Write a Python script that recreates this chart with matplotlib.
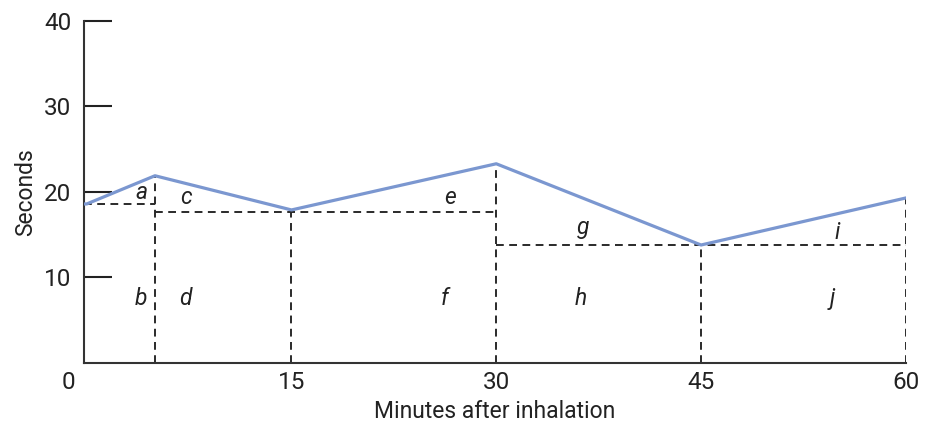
import matplotlib
matplotlib.use("Agg")
import matplotlib.pyplot as plt
import matplotlib.transforms as mtransforms

# measured curve
minutes = [0, 5, 15, 30, 45, 60]
seconds = [18.6, 21.9, 17.9, 23.3, 13.8, 19.3]

# dashed reference levels (x-start, x-end, y)
h_levels = [(-0.2, 5, 18.6), (5, 30, 17.7), (30, 60, 13.8)]

# region labels
labels = ["a", "b", "c", "d", "e", "f", "g", "h", "i", "j"]
label_x = [4.0, 4.0, 7.3, 7.2, 26.6, 26.2, 36.4, 36.2, 55.0, 54.6]
label_y = [19.9, 7.6, 19.3, 7.6, 19.3, 7.6, 15.8, 7.6, 15.3, 7.6]

xticks = [0, 15, 30, 45, 60]
yticks = [10, 20, 30, 40]

plt.rcParams["font.family"] = ["Roboto", "DejaVu Sans"]

fig = plt.figure(figsize=(9.3, 4.24), dpi=100)
ax = fig.add_axes([0.0903, 0.1439, 0.8837, 0.8066])

dash = dict(color="#2a2a2a", linewidth=1.4, linestyle=(0, (4, 2.8)), zorder=2)
for x0, x1, y in h_levels:
    ax.plot([x0, x1], [y, y], **dash)
for x, y in zip(minutes[1:], seconds[1:]):
    ax.plot([x, x], [0, y], **dash)

ax.plot([-0.2] + minutes, [seconds[0]] + seconds, color="#7b97d0",
        linewidth=2.3, zorder=3)

for t, x, y in zip(labels, label_x, label_y):
    ax.text(x, y, t, fontsize=16.5, style="italic", color="#222222",
            ha="center", va="center")

ax.set_xlim(-0.2, 60)
ax.set_ylim(0, 40)
ax.set_xticks(xticks)
ax.set_yticks(yticks)
ax.tick_params(axis="x", length=0, pad=6, labelsize=17.5, colors="#222222")
ax.tick_params(axis="y", direction="in", length=20, width=1.5, pad=9,
               labelsize=17.5, colors="#222222")
for sp in ["top", "right"]:
    ax.spines[sp].set_visible(False)
for sp in ["left", "bottom"]:
    ax.spines[sp].set_linewidth(1.5)
    ax.spines[sp].set_color("#333333")

# the zero label sits left of the corner
lbl0 = ax.get_xticklabels()[0]
lbl0.set_transform(lbl0.get_transform() +
                   mtransforms.ScaledTranslation(-0.18, 0, fig.dpi_scale_trans))

ax.set_xlabel("Minutes after inhalation", fontsize=16.5, color="#222222", labelpad=4)
ax.set_ylabel("Seconds", fontsize=16.5, color="#222222", labelpad=5)

fig.savefig("out.png", dpi=100)
